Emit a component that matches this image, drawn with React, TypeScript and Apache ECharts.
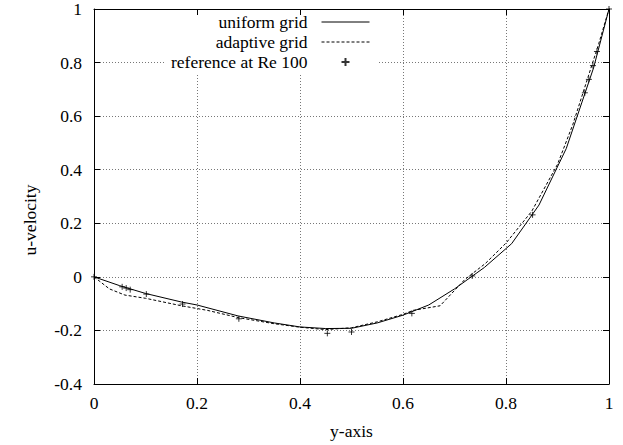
import React, { useEffect, useRef } from "react";
import * as echarts from "echarts";

const xTicks = [0, 0.2, 0.4, 0.6, 0.8, 1];
const yTicks = [-0.4, -0.2, 0, 0.2, 0.4, 0.6, 0.8, 1];

const uniformY = [0, 0.05, 0.1, 0.17, 0.2, 0.28, 0.35, 0.4, 0.45, 0.5, 0.55, 0.6, 0.65, 0.7, 0.758, 0.811, 0.864, 0.917, 0.97, 1];
const uniformU = [0, -0.033, -0.062, -0.094, -0.105, -0.146, -0.172, -0.187, -0.193, -0.192, -0.172, -0.143, -0.105, -0.045, 0.035, 0.124, 0.268, 0.479, 0.78, 1];

const adaptiveY = [0, 0.03, 0.06, 0.1, 0.17, 0.22, 0.28, 0.35, 0.4, 0.45, 0.5, 0.55, 0.6, 0.62, 0.672, 0.72, 0.76, 0.8, 0.85, 0.9, 0.93, 0.96, 0.98, 1];
const adaptiveU = [0, -0.045, -0.068, -0.08, -0.108, -0.125, -0.152, -0.175, -0.188, -0.197, -0.19, -0.168, -0.14, -0.125, -0.108, -0.01, 0.05, 0.126, 0.245, 0.42, 0.57, 0.75, 0.87, 1];

const refY = [0, 0.0547, 0.0625, 0.0703, 0.1016, 0.1719, 0.2813, 0.4531, 0.5, 0.6172, 0.7344, 0.8516, 0.9531, 0.9609, 0.9688, 0.9766, 1.0];
const refU = [0, -0.03717, -0.04192, -0.04775, -0.06434, -0.1015, -0.15662, -0.2109, -0.20581, -0.13641, 0.00332, 0.23151, 0.68717, 0.73722, 0.78871, 0.84123, 1.0];

const FONT = "Liberation Serif, Times New Roman, DejaVu Serif, serif";
const FS = 17.5;

const fmt = (v: number) => String(Math.round(v * 10) / 10);

export default function App() {
  const ref = useRef<HTMLDivElement>(null);
  useEffect(() => {
    document.body.style.margin = "0";
    const chart = echarts.init(ref.current!, null, { renderer: "svg" });
    const zip = (a: number[], b: number[]) => a.map((x, i) => [x, b[i]]);
    const axisCommon = {
      type: "value" as const,
      axisLine: { show: true, onZero: false, lineStyle: { color: "#000", width: 1 } },
      axisTick: { show: true, inside: true, length: 6, lineStyle: { color: "#000", width: 1 } },
    };
    const grid = { type: [1, 2], color: "#777", width: 1 };
    chart.setOption({
      animation: false,
      textStyle: { fontFamily: FONT },
      grid: { left: 94, right: 14, top: 8, bottom: 60, containLabel: false },
      xAxis: [
        {
          ...axisCommon,
          min: xTicks[0],
          max: xTicks[xTicks.length - 1],
          interval: 0.2,
          position: "bottom",
          axisLabel: { color: "#000", fontFamily: FONT, fontSize: FS, margin: 10, formatter: fmt },
          splitLine: { show: true, lineStyle: grid },
          name: "y-axis",
          nameLocation: "middle",
          nameGap: 38,
          nameTextStyle: { color: "#000", fontFamily: FONT, fontSize: FS },
        },
        {
          ...axisCommon,
          min: xTicks[0],
          max: xTicks[xTicks.length - 1],
          interval: 0.2,
          position: "top",
          axisLabel: { show: false },
          splitLine: { show: false },
        },
      ],
      yAxis: [
        {
          ...axisCommon,
          min: yTicks[0],
          max: yTicks[yTicks.length - 1],
          interval: 0.2,
          position: "left",
          axisLabel: { color: "#000", fontFamily: FONT, fontSize: FS, margin: 12, formatter: fmt },
          splitLine: { show: true, lineStyle: grid },
        },
        {
          ...axisCommon,
          min: yTicks[0],
          max: yTicks[yTicks.length - 1],
          interval: 0.2,
          position: "right",
          axisLabel: { show: false },
          splitLine: { show: false },
        },
      ],
      legend: {
        orient: "vertical",
        align: "right",
        right: 253,
        top: 12,
        padding: 0,
        itemWidth: 48,
        itemHeight: 8,
        itemGap: 0,
        lineStyle: { width: 1 },
        textStyle: { color: "#000", fontFamily: FONT, fontSize: FS, lineHeight: 20, padding: [0, 9, 0, 0] },
        data: [
          { name: "uniform grid", itemStyle: { opacity: 0 } },
          { name: "adaptive grid", itemStyle: { opacity: 0 } },
          { name: "reference at Re 100" },
        ],
      },
      graphic: [
        {
          type: "rect",
          z: 1,
          shape: { x: 165, y: 15, width: 213, height: 60 },
          style: { fill: "#fff" },
          silent: true,
        },
        {
          type: "text",
          x: 30,
          y: 220,
          rotation: Math.PI / 2,
          style: {
            text: "u-velocity",
            fill: "#000",
            fontFamily: FONT,
            fontSize: FS,
            align: "center",
            verticalAlign: "middle",
          },
        },
      ],
      series: [
        {
          name: "uniform grid",
          type: "line",
          symbol: "none",
          data: zip(uniformY, uniformU),
          lineStyle: { color: "#000", width: 1 },
          itemStyle: { color: "#000" },
        },
        {
          name: "adaptive grid",
          type: "line",
          symbol: "none",
          data: zip(adaptiveY, adaptiveU),
          lineStyle: { color: "#000", width: 1, type: [3, 2] },
          itemStyle: { color: "#000" },
        },
        {
          name: "reference at Re 100",
          type: "scatter",
          symbol: "path://M0,5L10,5M5,0L5,10",
          symbolSize: 6,
          data: zip(refY, refU),
          itemStyle: { color: "none", borderColor: "#000", borderWidth: 1 },
        },
      ],
    });
    return () => chart.dispose();
  }, []);
  return <div ref={ref} style={{ width: 623, height: 445 }} />;
}
